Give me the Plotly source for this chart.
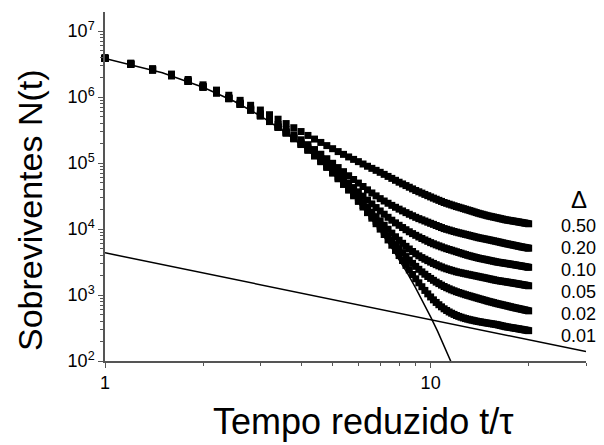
import math
import plotly.graph_objects as go

# ---- data ----
t_values = [1.0, 1.2, 1.4, 1.6, 1.8, 2.0, 2.2, 2.4, 2.6, 2.8,
            3.0, 3.2, 3.4, 3.6, 3.8, 4.0, 4.2, 4.4, 4.6, 4.8,
            5.0, 5.2, 5.4, 5.6, 5.8, 6.0, 6.2, 6.4, 6.6, 6.8,
            7.0, 7.2, 7.4, 7.6, 7.8, 8.0, 8.2, 8.4, 8.6, 8.8,
            9.0, 9.2, 9.4, 9.6, 9.8, 10.0, 10.2, 10.4, 10.6, 10.8,
            11.0, 11.2, 11.4, 11.6, 11.8, 12.0, 12.2, 12.4, 12.6, 12.8,
            13.0, 13.2, 13.4, 13.6, 13.8, 14.0, 14.2, 14.4, 14.6, 14.8,
            15.0, 15.2, 15.4, 15.6, 15.8, 16.0, 16.2, 16.4, 16.6, 16.8,
            17.0, 17.2, 17.4, 17.6, 17.8, 18.0, 18.2, 18.4, 18.6, 18.8,
            19.0, 19.2, 19.4, 19.6, 19.8, 20.0]

# log10 N(t) for each Delta
log_n_050 = [6.599, 6.515, 6.432, 6.349, 6.267, 6.186, 6.106, 6.028, 5.951, 5.876,
             5.804, 5.733, 5.665, 5.599, 5.536, 5.478, 5.419, 5.364, 5.313, 5.265,
             5.218, 5.174, 5.132, 5.093, 5.056, 5.022, 4.986, 4.952, 4.920, 4.890,
             4.860, 4.829, 4.798, 4.768, 4.739, 4.710, 4.684, 4.659, 4.634, 4.609,
             4.585, 4.565, 4.545, 4.525, 4.506, 4.487, 4.469, 4.452, 4.435, 4.419,
             4.402, 4.390, 4.377, 4.365, 4.353, 4.341, 4.331, 4.321, 4.310, 4.300,
             4.290, 4.280, 4.270, 4.260, 4.250, 4.240, 4.232, 4.224, 4.216, 4.208,
             4.200, 4.194, 4.188, 4.182, 4.176, 4.170, 4.164, 4.158, 4.152, 4.146,
             4.140, 4.136, 4.132, 4.128, 4.124, 4.120, 4.116, 4.112, 4.108, 4.104,
             4.100, 4.096, 4.092, 4.088, 4.084, 4.080]
log_n_020 = [6.589, 6.503, 6.418, 6.332, 6.247, 6.162, 6.077, 5.993, 5.910, 5.827,
             5.745, 5.664, 5.584, 5.505, 5.428, 5.353, 5.279, 5.205, 5.134, 5.066,
             4.997, 4.932, 4.870, 4.808, 4.751, 4.697, 4.645, 4.594, 4.547, 4.503,
             4.461, 4.425, 4.391, 4.359, 4.330, 4.302, 4.275, 4.249, 4.224, 4.201,
             4.178, 4.158, 4.140, 4.122, 4.104, 4.087, 4.071, 4.054, 4.038, 4.023,
             4.007, 3.996, 3.985, 3.974, 3.963, 3.953, 3.944, 3.936, 3.927, 3.919,
             3.911, 3.902, 3.894, 3.886, 3.878, 3.870, 3.864, 3.858, 3.852, 3.846,
             3.840, 3.834, 3.828, 3.822, 3.816, 3.810, 3.804, 3.798, 3.792, 3.786,
             3.780, 3.775, 3.770, 3.765, 3.760, 3.755, 3.750, 3.745, 3.740, 3.735,
             3.730, 3.726, 3.722, 3.718, 3.714, 3.710]
log_n_010 = [6.587, 6.500, 6.414, 6.327, 6.241, 6.155, 6.069, 5.983, 5.897, 5.812,
             5.727, 5.643, 5.559, 5.475, 5.393, 5.310, 5.229, 5.149, 5.070, 4.993,
             4.917, 4.842, 4.769, 4.698, 4.629, 4.564, 4.500, 4.438, 4.381, 4.326,
             4.274, 4.225, 4.178, 4.134, 4.094, 4.057, 4.023, 3.990, 3.959, 3.931,
             3.905, 3.880, 3.857, 3.835, 3.814, 3.794, 3.777, 3.760, 3.745, 3.730,
             3.715, 3.702, 3.690, 3.679, 3.667, 3.656, 3.645, 3.634, 3.623, 3.613,
             3.602, 3.594, 3.585, 3.577, 3.569, 3.561, 3.554, 3.548, 3.542, 3.536,
             3.530, 3.524, 3.518, 3.512, 3.506, 3.500, 3.496, 3.492, 3.488, 3.484,
             3.480, 3.476, 3.472, 3.468, 3.464, 3.460, 3.456, 3.452, 3.448, 3.444,
             3.440, 3.436, 3.432, 3.428, 3.424, 3.420]
log_n_005 = [6.586, 6.499, 6.412, 6.325, 6.238, 6.152, 6.065, 5.978, 5.892, 5.806,
             5.719, 5.633, 5.547, 5.462, 5.376, 5.291, 5.207, 5.122, 5.039, 4.956,
             4.873, 4.792, 4.711, 4.631, 4.553, 4.477, 4.402, 4.328, 4.257, 4.188,
             4.122, 4.058, 3.997, 3.938, 3.883, 3.831, 3.784, 3.738, 3.698, 3.660,
             3.625, 3.594, 3.567, 3.543, 3.521, 3.499, 3.479, 3.460, 3.442, 3.426,
             3.410, 3.397, 3.385, 3.374, 3.363, 3.352, 3.344, 3.337, 3.329, 3.322,
             3.315, 3.308, 3.301, 3.295, 3.288, 3.282, 3.275, 3.269, 3.263, 3.257,
             3.250, 3.244, 3.238, 3.232, 3.226, 3.220, 3.216, 3.212, 3.208, 3.204,
             3.200, 3.196, 3.192, 3.188, 3.184, 3.180, 3.176, 3.172, 3.168, 3.164,
             3.160, 3.156, 3.152, 3.148, 3.144, 3.140]
log_n_002 = [6.585, 6.498, 6.411, 6.324, 6.238, 6.151, 6.064, 5.977, 5.890, 5.803,
             5.717, 5.630, 5.543, 5.457, 5.371, 5.284, 5.198, 5.112, 5.027, 4.941,
             4.856, 4.771, 4.687, 4.603, 4.520, 4.438, 4.357, 4.276, 4.197, 4.119,
             4.044, 3.971, 3.899, 3.829, 3.764, 3.700, 3.639, 3.583, 3.530, 3.480,
             3.435, 3.390, 3.351, 3.315, 3.281, 3.252, 3.223, 3.196, 3.173, 3.150,
             3.129, 3.111, 3.094, 3.078, 3.064, 3.050, 3.038, 3.027, 3.016, 3.005,
             2.995, 2.986, 2.976, 2.967, 2.958, 2.949, 2.940, 2.932, 2.923, 2.915,
             2.906, 2.899, 2.892, 2.885, 2.877, 2.870, 2.864, 2.858, 2.852, 2.846,
             2.840, 2.834, 2.828, 2.822, 2.816, 2.810, 2.805, 2.800, 2.795, 2.790,
             2.785, 2.780, 2.775, 2.770, 2.765, 2.760]
log_n_001 = [6.585, 6.498, 6.411, 6.324, 6.237, 6.150, 6.063, 5.976, 5.889, 5.802,
             5.715, 5.629, 5.542, 5.455, 5.368, 5.281, 5.195, 5.108, 5.021, 4.935,
             4.848, 4.762, 4.676, 4.590, 4.504, 4.419, 4.334, 4.249, 4.165, 4.081,
             3.999, 3.917, 3.835, 3.755, 3.676, 3.598, 3.523, 3.450, 3.380, 3.311,
             3.246, 3.185, 3.126, 3.070, 3.018, 2.971, 2.927, 2.888, 2.853, 2.821,
             2.791, 2.766, 2.743, 2.724, 2.706, 2.690, 2.676, 2.664, 2.653, 2.643,
             2.634, 2.626, 2.619, 2.612, 2.605, 2.599, 2.594, 2.588, 2.583, 2.578,
             2.573, 2.569, 2.564, 2.560, 2.555, 2.551, 2.544, 2.538, 2.532, 2.526,
             2.520, 2.516, 2.512, 2.508, 2.504, 2.500, 2.496, 2.492, 2.488, 2.484,
             2.480, 2.476, 2.472, 2.468, 2.464, 2.460]

delta_labels = ["0.50", "0.20", "0.10", "0.05", "0.02", "0.01"]
series_log = [log_n_050, log_n_020, log_n_010, log_n_005, log_n_002, log_n_001]

# exponential fit line (straight in semilog)
exp_fit_t = [1.0, 1.5, 2.0, 2.5, 3.0, 3.5, 4.0, 4.5, 5.0, 5.5, 6.0, 6.5,
             7.0, 7.5, 8.0, 8.5, 9.0, 9.5, 10.0, 10.5, 11.0, 11.5, 12.0]
exp_fit_log = [6.585, 6.368, 6.150, 5.933, 5.715, 5.498, 5.280, 5.063, 4.845,
               4.628, 4.410, 4.193, 3.975, 3.758, 3.540, 3.323, 3.105, 2.888,
               2.670, 2.453, 2.235, 2.018, 1.800]
# power-law line
pow_fit_t = [1.0, 30.0]
pow_fit_n = [4365.0, 139.0]

# right-hand labels (pixel y centres)
label_y_px = [226, 248, 270, 292, 314, 336]

# ---- figure ----
W, H = 604, 445
L, R, T, B = 105, 18, 12, 84
pw, ph = W - L - R, H - T - B

fig = go.Figure()
for logs in series_log:
    fig.add_trace(go.Scatter(
        x=t_values, y=[10 ** v for v in logs], mode="markers",
        marker=dict(symbol="square", size=7, color="black", line=dict(width=0)),
        cliponaxis=False, hoverinfo="skip"))

fig.add_trace(go.Scatter(x=exp_fit_t, y=[10 ** v for v in exp_fit_log], mode="lines",
                         line=dict(color="black", width=1.5), hoverinfo="skip"))
fig.add_trace(go.Scatter(x=pow_fit_t, y=pow_fit_n, mode="lines",
                         line=dict(color="black", width=1.5), hoverinfo="skip"))

axis_col = "#555555"
fnt = "Arial, 'Liberation Sans', sans-serif"

fig.update_layout(
    width=W, height=H, margin=dict(l=L, r=R, t=T, b=B),
    plot_bgcolor="white", paper_bgcolor="white", showlegend=False,
    font=dict(family=fnt, color="black", size=18),
    xaxis=dict(type="log", range=[0, math.log10(30)], showline=True, linecolor=axis_col,
               linewidth=1.5, ticks="outside", ticklen=5, tickwidth=1.2, tickcolor=axis_col,
               tickmode="array", tickvals=[1, 10], ticktext=["1", "10"],
               tickfont=dict(size=18, family=fnt, color="black"),
               showgrid=False, zeroline=False,
               minor=dict(tickmode="array", tickvals=[2, 3, 4, 5, 6, 7, 8, 9, 20, 30],
                          ticks="outside", ticklen=3, tickwidth=1.2, tickcolor=axis_col,
                          showgrid=False)),
    yaxis=dict(type="log", range=[2, 7.29], showline=True, linecolor=axis_col,
               linewidth=1.5, ticks="outside", ticklen=5, tickwidth=1.2, tickcolor=axis_col,
               tickmode="array",
               tickvals=[1e2, 1e3, 1e4, 1e5, 1e6, 1e7],
               ticktext=["10<sup>2</sup>", "10<sup>3</sup>", "10<sup>4</sup>",
                         "10<sup>5</sup>", "10<sup>6</sup>", "10<sup>7</sup>"],
               tickfont=dict(size=18, family=fnt, color="black"),
               showgrid=False, zeroline=False,
               minor=dict(tickmode="array",
                          tickvals=[m * 10 ** e for e in range(2, 7) for m in range(2, 10)],
                          ticks="outside", ticklen=3, tickwidth=1.2, tickcolor=axis_col,
                          showgrid=False)),
)

def px2paper(xp, yp):
    return (xp - L) / pw, (H - B - yp) / ph

ann = []
x0, y0 = px2paper(363, 421)
ann.append(dict(x=x0, y=y0, xref="paper", yref="paper", text="Tempo reduzido t/τ",
                showarrow=False, font=dict(size=36, family=fnt, color="black"),
                xanchor="center", yanchor="middle"))
x0, y0 = px2paper(30, 210)
ann.append(dict(x=x0, y=y0, xref="paper", yref="paper", text="Sobreviventes N(t)",
                showarrow=False, textangle=-90, font=dict(size=34, family=fnt, color="black"),
                xanchor="center", yanchor="middle"))
x0, y0 = px2paper(579, 199)
ann.append(dict(x=x0, y=y0, xref="paper", yref="paper", text="Δ", showarrow=False,
                font=dict(size=24, family=fnt, color="black"), xanchor="center", yanchor="middle"))
for lab, yp in zip(delta_labels, label_y_px):
    x0, y0 = px2paper(578, yp)
    ann.append(dict(x=x0, y=y0, xref="paper", yref="paper", text=lab, showarrow=False,
                    font=dict(size=18, family=fnt, color="black"),
                    xanchor="center", yanchor="middle"))
fig.update_layout(annotations=ann)

fig.write_html("out.html")
